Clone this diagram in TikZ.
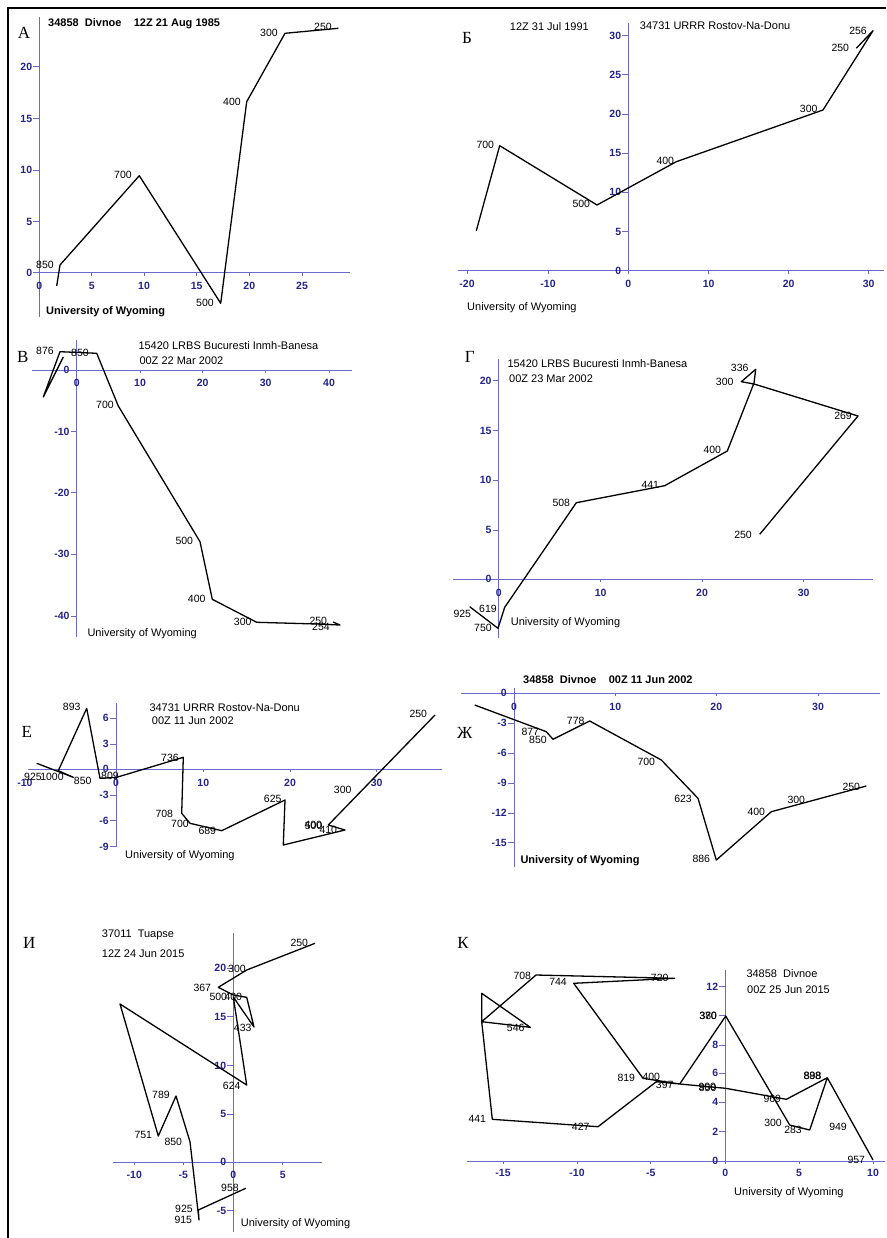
\documentclass[tikz,border=0pt]{standalone}
\usepackage{fontspec}
\setmainfont{Liberation Sans}
\newfontfamily\cyrserif{Liberation Serif}
\usepackage{tikz}

\definecolor{axisblue}{RGB}{105,105,205}
\definecolor{tickblue}{RGB}{35,35,140}

\tikzset{
  axisline/.style={axisblue, line width=0.9pt},
  hodo/.style={black, line width=1.3pt, line join=round},
  lvl/.style={font=\fontsize{10.5}{10.5}\selectfont, inner sep=0pt},
  ticklab/.style={tickblue, font=\fontsize{10.5}{10.5}\selectfont\bfseries, inner sep=0pt},
  ttl/.style={font=\fontsize{11}{11}\selectfont, anchor=west, inner sep=0pt},
  bttl/.style={ttl, font=\fontsize{11}{11}\selectfont\bfseries},
  panel/.style={font=\cyrserif\fontsize{17}{17}\selectfont, inner sep=0pt},
}

\begin{document}
\begin{tikzpicture}[x=1pt, y=-1pt]
    \useasboundingbox (0,0) rectangle (886,1238);
    \draw[line width=1.6pt] (8,1238) -- (8,8) -- (886,8);

    % A
    \node[panel] (pA) at (24,33) {А};
    \draw[axisline] (36,272.7) -- (350,272.7);
    \draw[axisline] (39.3,17) -- (39.3,317);
    \foreach \x/\t in {39.3/0,91.7/5,144/10,196.7/15,249.3/20,302/25}
      {\draw[axisline] (\x,272.7) -- ++(0,3); \node[ticklab] at (\x,285.7) {\t};}
    \foreach \y/\t in {272.7/0,221.7/5,170/10,118.7/15,66.7/20}
      {\draw[axisline] (33.3,\y) -- (39.3,\y); \node[ticklab, anchor=east] at (32.3,\y) {\t};}
    \draw[hodo] (56.7,286) -- (60,265) -- (139.3,175.7) -- (220.7,303.3) -- (246.7,101.7) -- (285,33.3) -- (338.3,28.3);
    \foreach \x/\y/\t in {45/265/850,123/175/700,205/303/500,232/102/400,269/33/300,323/27/250}
      \node[lvl] (A-\t) at (\x,\y) {\t};
    \node[bttl] (tA) at (48,24) {34858~~Divnoe~~~~12Z 21 Aug 1985};
    \node[bttl] (uA) at (46,312) {University of Wyoming};

    % B (Б)
    \node[panel] (pB) at (467,38.3) {Б};
    \draw[axisline] (458,270.7) -- (884,270.7);
    \draw[axisline] (628.3,22.7) -- (628.3,271.7);
    \foreach \x/\t in {467/-20,548/-10,628.3/0,708.7/10,788.7/20,868.7/30}
      {\draw[axisline] (\x,270.7) -- ++(0,3); \node[ticklab] at (\x,284) {\t};}
    \foreach \y/\t in {270.7/0,231.7/5,192.3/10,153.3/15,114/20,74.7/25,35.7/30}
      {\draw[axisline] (622.3,\y) -- (628.3,\y); \node[ticklab, anchor=east] at (621.3,\y) {\t};}
    \draw[hodo] (476.3,230.7) -- (499.7,145.7) -- (597,205) -- (676.3,161.7) -- (823,110) -- (873,30.7) -- (856.3,48.3);
    \foreach \x/\y/\t in {485.3/145/700,581.3/204/500,665.3/160.7/400,808.7/109/300,858/30.7/256,840.3/48.3/250}
      \node[lvl] (B-\t) at (\x,\y) {\t};
    \node[ttl] (tB1) at (509.7,26.7) {12Z 31 Jul 1991};
    \node[ttl] (tB2) at (639.7,26) {34731 URRR Rostov-Na-Donu};
    \node[ttl] (uB) at (467,307.3) {University of Wyoming};

    % V (В)
    \node[panel] (pV) at (22.7,357.3) {В};
    \draw[axisline] (31.7,370) -- (351.7,370);
    \draw[axisline] (76.7,340) -- (76.7,636.7);
    \foreach \x/\t in {76.7/0,140/10,202.7/20,265.7/30,329/40}
      {\draw[axisline] (\x,370) -- ++(0,3); \node[ticklab] at (\x,383.3) {\t};}
    \foreach \y/\t in {370/0,431.7/-10,492.7/-20,554.3/-30,616/-40}
      {\draw[axisline] (70.7,\y) -- (76.7,\y); \node[ticklab, anchor=east] at (69.7,\y) {\t};}
    \draw[hodo] (63.3,357) -- (43.3,397) -- (60,351.7) -- (96.7,353.3) -- (118.3,406) -- (200,541.7) -- (212.3,599.3) -- (256.7,622.3) -- (316.7,624) -- (340,625) -- (333,622);
    \foreach \x/\y/\t in {45/350.7/876,80/353.3/850,105/405/700,184.3/541/500,196.7/599.3/400,242.7/621.7/300,318.3/621/250,321/627/254}
      \node[lvl] (V-\t) at (\x,\y) {\t};
    \node[ttl] (tV1) at (138.3,346) {15420 LRBS Bucuresti Inmh-Banesa};
    \node[ttl] (tV2) at (139.3,361) {00Z 22 Mar 2002};
    \node[ttl] (uV) at (87.3,633.3) {University of Wyoming};

    % G (Г)
    \node[panel] (pG) at (469.7,356.7) {Г};
    \draw[axisline] (453,579.3) -- (873,579.3);
    \draw[axisline] (498.7,359.3) -- (498.7,638.3);
    \foreach \x/\t in {498.7/0,600.7/10,702/20,803.7/30}
      {\draw[axisline] (\x,579.3) -- ++(0,3); \node[ticklab] at (\x,592.7) {\t};}
    \foreach \y/\t in {579.3/0,530/5,480.3/10,430.7/15,380.7/20}
      {\draw[axisline] (492.7,\y) -- (498.7,\y); \node[ticklab, anchor=east] at (491.7,\y) {\t};}
    \draw[hodo] (469.7,606.7) -- (498,628.3) -- (504.7,607.3) -- (576.3,502.7) -- (664.7,485.7) -- (727.3,451) -- (754,383) -- (755.7,369.3) -- (741.3,381.7) -- (754,384) -- (858,416) -- (759.7,534.3);
    \foreach \x/\y/\t in {462.3/614/925,488/609.3/619,483/628.3/750,561.3/502.7/508,650.3/485/441,712.3/450/400,739.7/368.3/336,724.7/381.7/300,843/415.7/269,743/535/250}
      \node[lvl] (G-\t) at (\x,\y) {\t};
    \node[ttl] (tG1) at (507.3,363.3) {15420 LRBS Bucuresti Inmh-Banesa};
    \node[ttl] (tG2) at (509,378.3) {00Z 23 Mar 2002};
    \node[ttl] (uG) at (510.7,622.7) {University of Wyoming};

    % E (Е)
    \node[panel] (pE) at (26.7,731.7) {Е};
    \draw[axisline] (28.3,769) -- (441.7,769);
    \draw[axisline] (116,703.3) -- (116,846.7);
    \foreach \x/\t in {116/0,203.3/10,290/20,376.7/30}
      {\draw[axisline] (\x,769) -- ++(0,3); \node[ticklab] at (\x,782.7) {\t};}
    \node[ticklab] (xE) at (25,782.7) {-10};
    \foreach \y/\t in {718.3/6,744.3/3,769/0,795/-3,820.7/-6,846.7/-9}
      {\draw[axisline] (110,\y) -- (116,\y); \node[ticklab, anchor=east] at (109,\y) {\t};}
    \draw[hodo] (36.7,763.3) -- (73.3,777.3) -- (58.3,770.7) -- (86.7,708.3) -- (100,778.3) -- (116.7,777.3) -- (183.3,757.3) -- (181.7,813.3) -- (190,823.3) -- (221.7,830.7) -- (285,800) -- (283.3,845) -- (345,830) -- (328.3,825) -- (435,715);
    \foreach \x/\y/\t in {71.7/707.3/893,33/777.3/925,52/777.3/1000,82.7/780.7/850,110/776/809,170/758.3/736,164.3/814.3/708,180/824/700,207.3/830.7/689,272.7/799.3/625,342.7/790/300,418.3/714.3/250,313.3/825/400,313.6/825.4/500,328.3/830/410}
      \node[lvl] (E-\t) at (\x,\y) {\t};
    \node[ttl] (tE1) at (149.3,707.3) {34731 URRR Rostov-Na-Donu};
    \node[ttl] (tE2) at (151.7,721) {00Z 11 Jun 2002};
    \node[ttl] (uE) at (125,855.7) {University of Wyoming};

    % Zh (Ж)
    \node[panel] (pZh) at (464.7,732.7) {Ж};
    \draw[axisline] (461.3,693.3) -- (879.7,693.3);
    \draw[axisline] (514,688.3) -- (514,866.7);
    \foreach \x/\t in {514/0,615.3/10,716.3/20,818/30}
      {\draw[axisline] (\x,693.3) -- ++(0,3); \node[ticklab] at (\x,707.3) {\t};}
    \foreach \y/\t in {693.3/0,723.3/-3,753.3/-6,783.3/-9,813.3/-12,842.7/-15}
      {\draw[axisline] (508,\y) -- (514,\y); \node[ticklab, anchor=east] at (507,\y) {\t};}
    \draw[hodo] (474.7,705) -- (546.3,731.7) -- (553,739.3) -- (589.7,721) -- (661.3,760) -- (698,798.3) -- (716.3,860) -- (771.3,811.7) -- (866.3,786);
    \foreach \x/\y/\t in {530.3/731.7/877,538/740/850,575.7/721/778,646.3/761.7/700,683/799/623,701.3/859.3/886,756.3/811.7/400,796.3/800/300,851.3/786.7/250}
      \node[lvl] (Zh-\t) at (\x,\y) {\t};
    \node[bttl] (tZh) at (523,680) {34858~~Divnoe~~~~00Z 11 Jun 2002};
    \node[bttl] (uZh) at (520.3,860.7) {University of Wyoming};

    % I (И)
    \node[panel] (pI) at (29.3,943.3) {И};
    \draw[axisline] (112.7,1162.3) -- (321.7,1162.3);
    \draw[axisline] (233.3,933.3) -- (233.3,1231.7);
    \foreach \x/\t in {134.3/-10,183.3/-5,233.3/0,282.7/5}
      {\draw[axisline] (\x,1162.3) -- ++(0,3); \node[ticklab] at (\x,1175) {\t};}
    \foreach \y/\t in {1210.7/-5,1162.3/0,1114/5,1065.7/10,1016.7/15,968.3/20}
      {\draw[axisline] (227.3,\y) -- (233.3,\y); \node[ticklab, anchor=east] at (226.3,\y) {\t};}
    \draw[hodo] (245.7,1188.3) -- (198.3,1210) -- (199,1220) -- (190,1141.7) -- (176,1096) -- (158.3,1136) -- (120,1004) -- (246.7,1085) -- (233.3,997) -- (254,1027) -- (246.7,997.3) -- (233.3,995) -- (218.3,987.3) -- (246.7,970) -- (315,943.3);
    \foreach \x/\y/\t in {230/1188.3/958,184/1209.3/925,183.3/1220/915,173.3/1141.7/850,161/1095/789,143.3/1135/751,231.7/1085.7/624,242.7/1027.7/433,218.3/997.3/500,233.3/997.3/400,202.3/988.3/367,237/969.3/300,299.3/942.7/250}
      \node[lvl] (I-\t) at (\x,\y) {\t};
    \node[ttl] (tI1) at (101.7,935) {37011~~Tuapse};
    \node[ttl] (tI2) at (101.7,953.3) {12Z 24 Jun 2015};
    \node[ttl] (uI) at (240.7,1223.3) {University of Wyoming};

    % K (К)
    \node[panel] (pK) at (463,943.3) {К};
    \draw[axisline] (467,1161) -- (884.7,1161);
    \draw[axisline] (725.3,970) -- (725.3,1161);
    \foreach \x/\t in {503/-15,577/-10,650.7/-5,725.3/0,799/5,873/10}
      {\draw[axisline] (\x,1161) -- ++(0,3); \node[ticklab] at (\x,1173.3) {\t};}
    \foreach \y/\t in {1161/0,1131.7/2,1102.3/4,1073.3/6,1045/8,986.7/12}
      {\draw[axisline] (719.3,\y) -- (725.3,\y); \node[ticklab, anchor=east] at (718.3,\y) {\t};}
    \draw[axisline] (719.3,1015.7) -- (725.3,1015.7);
    \draw[hodo] (873,1160) -- (827.3,1077.7) -- (786.3,1099.3) -- (725.7,1088.3) -- (679.7,1084) -- (656.3,1081.7) -- (598,1126.7) -- (492.3,1119.3) -- (481.7,1021.7) -- (530.3,1027.3) -- (481.7,993.3) -- (481.7,1021.7) -- (536,975) -- (674.7,978.3) -- (573.7,983.3) -- (643,1078.3) -- (679.7,1084) -- (725.7,1016) -- (789.7,1125) -- (809.7,1130) -- (827.3,1077.7);
    \foreach \x/\y/\t in {856.3/1160/957,838/1126.7/949,812.3/1076/888,812.6/1076.3/898,772.3/1099.3/969,773/1123.3/300,793/1130/283,708/1016/370,708.3/1016.3/380,707.3/1087.3/900,707.6/1087.6/850,664.7/1085/397,651.3/1076.7/400,626.3/1078.3/819,580.7/1126.7/427,477.3/1119.3/441,515.7/1027.7/546,522.3/976/708,558/982.3/744,659.7/978.3/720}
      \node[lvl] (K-\t) at (\x,\y) {\t};
    \node[ttl] (tK1) at (746.3,973.3) {34858~~Divnoe};
    \node[ttl] (tK2) at (747,989.3) {00Z 25 Jun 2015};
    \node[ttl] (uK) at (734,1192.3) {University of Wyoming};
\end{tikzpicture}
\end{document}
